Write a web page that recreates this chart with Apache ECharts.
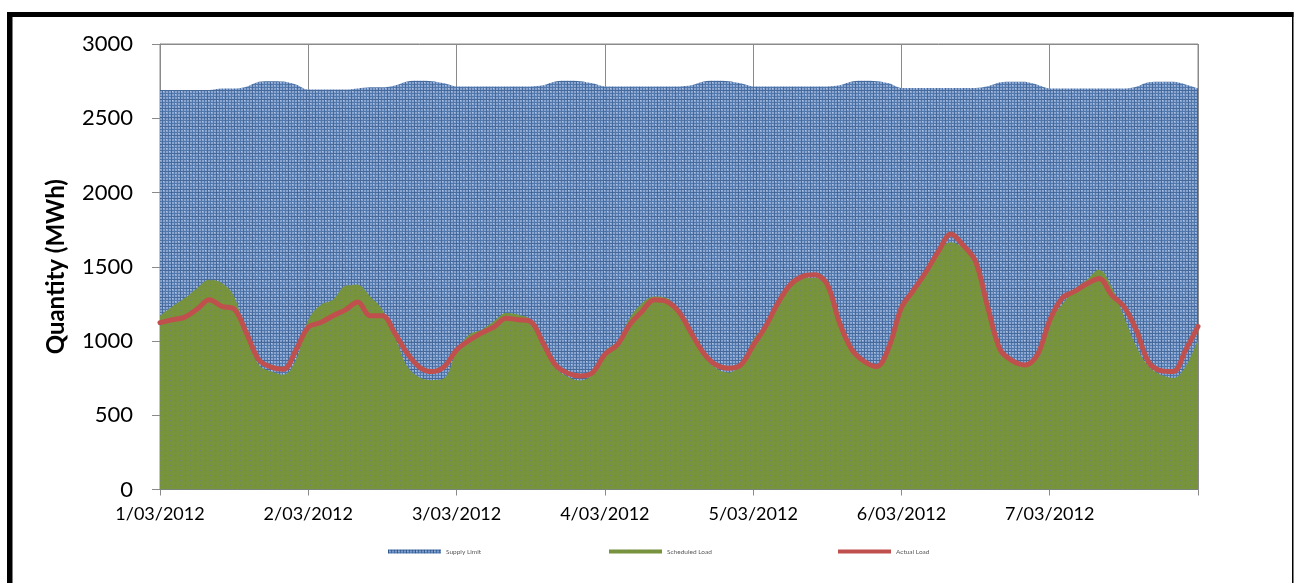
<!DOCTYPE html>
<html>
<head>
<meta charset="utf-8">
<script src="https://cdn.jsdelivr.net/npm/echarts@6/dist/echarts.min.js"></script>
<style>
  html, body { margin: 0; padding: 0; background: #ffffff; }
  #chart { width: 1294px; height: 583px; }
</style>
</head>
<body>
<div id="chart"></div>
<script>
// ---- data (2-hourly points, 12 per day, 1/03/2012 00:00 to 8/03/2012 00:00) ----
const dayLabels = ['1/03/2012', '2/03/2012', '3/03/2012', '4/03/2012', '5/03/2012', '6/03/2012', '7/03/2012'];
const pointsPerDay = 12;

const supplyLimit = [
  2690, 2690, 2690, 2690, 2690, 2700, 2700, 2712, 2745, 2750, 2748, 2728,
  2693, 2693, 2693, 2693, 2700, 2708, 2708, 2720, 2748, 2752, 2750, 2735,
  2714, 2714, 2714, 2714, 2714, 2714, 2714, 2722, 2748, 2752, 2750, 2735,
  2714, 2714, 2714, 2714, 2714, 2714, 2714, 2722, 2748, 2752, 2750, 2735,
  2714, 2714, 2714, 2714, 2714, 2714, 2714, 2722, 2748, 2752, 2750, 2735,
  2704, 2704, 2704, 2704, 2704, 2704, 2704, 2715, 2742, 2746, 2745, 2725,
  2700, 2700, 2700, 2700, 2700, 2700, 2700, 2712, 2742, 2746, 2745, 2728,
  2702
];

const scheduledLoad = [
  1170, 1233, 1289, 1356, 1412, 1390, 1300, 1030, 839, 794, 772, 873,
  1143, 1244, 1278, 1372, 1379, 1300, 1210, 1030, 828, 755, 738, 750,
  930, 1042, 1075, 1131, 1188, 1177, 1143, 963, 817, 760, 734, 772,
  930, 996, 1154, 1255, 1300, 1289, 1199, 1053, 895, 817, 787, 839,
  1008, 1109, 1278, 1390, 1424, 1424, 1379, 1109, 918, 851, 817, 963,
  1233, 1345, 1491, 1610, 1665, 1626, 1525, 1210, 940, 873, 839, 940,
  1143, 1244, 1345, 1412, 1480, 1367, 1165, 963, 828, 772, 750, 828,
  1008
];

const actualLoad = [
  1124, 1143, 1161, 1215, 1278, 1233, 1215, 1053, 873, 824, 810, 940,
  1093, 1124, 1170, 1210, 1262, 1170, 1170, 1053, 918, 824, 794, 828,
  940, 1003, 1053, 1093, 1154, 1143, 1131, 986, 839, 783, 765, 787,
  910, 974, 1109, 1199, 1278, 1266, 1195, 1053, 918, 839, 817, 839,
  970, 1098, 1255, 1379, 1435, 1446, 1379, 1120, 940, 862, 828, 963,
  1225, 1345, 1468, 1605, 1720, 1644, 1536, 1222, 940, 866, 839, 907,
  1140, 1289, 1334, 1385, 1421, 1311, 1233, 1075, 858, 801, 794, 940,
  1098
];

const yTicks = { min: 0, max: 3000, interval: 500 };

// ---- pattern fills (Excel-style hatch) ----
function makePlaid() {
  const c = document.createElement('canvas');
  c.width = 9; c.height = 9;
  const g = c.getContext('2d');
  g.fillStyle = '#7d9ccb'; g.fillRect(0, 0, 9, 9);
  g.fillStyle = '#3f6aa4';
  [3, 6].forEach(p => { g.fillRect(p, 0, 1, 9); g.fillRect(0, p, 9, 1); });
  g.fillStyle = '#30598f';
  g.fillRect(0, 0, 1, 9); g.fillRect(0, 0, 9, 1);
  g.fillStyle = '#a9bedd';
  [1, 4, 7].forEach(p => g.fillRect(p, p, 1, 1));
  return c;
}
function makeDots() {
  const c = document.createElement('canvas');
  c.width = 5; c.height = 5;
  const g = c.getContext('2d');
  g.fillStyle = '#77933c'; g.fillRect(0, 0, 5, 5);
  g.fillStyle = '#6e8470'; g.fillRect(0, 0, 1, 1);
  g.fillStyle = '#7c9447'; g.fillRect(2, 3, 1, 1);
  return c;
}
const bluePattern = { image: makePlaid(), repeat: 'repeat' };
const greenPattern = { image: makeDots(), repeat: 'repeat' };

const toXY = arr => arr.map((v, i) => [i, v]);
const nPts = dayLabels.length * pointsPerDay;
const gridGray = '#8a8a8a';
const fontFam = 'Lato, "Open Sans", sans-serif';

const chart = echarts.init(document.getElementById('chart'), null, { renderer: 'canvas' });

function legendAt(name, left, itemStyle) {
  return {
    data: [{ name: name, icon: 'rect', itemStyle: itemStyle }],
    left: left, top: 548, padding: 0,
    itemWidth: 53, itemHeight: 4, itemGap: 5,
    selectedMode: false,
    textStyle: { fontSize: 6.5, color: '#595959', fontFamily: fontFam }
  };
}

chart.setOption({
  backgroundColor: '#ffffff',
  animation: false,
  grid: {
    left: 160, top: 44, width: 1038, height: 445.5,
    show: true, borderColor: gridGray, borderWidth: 1, backgroundColor: 'transparent'
  },
  legend: [
    legendAt('Supply Limit', 388, { color: bluePattern }),
    legendAt('Scheduled Load', 609, { color: greenPattern }),
    legendAt('Actual Load', 838, { color: '#c0504d' })
  ],
  xAxis: {
    type: 'value', min: 0, max: nPts, interval: pointsPerDay,
    axisLine: { show: true, lineStyle: { color: gridGray, width: 1 } },
    axisTick: { show: true, inside: false, length: 6, lineStyle: { color: gridGray } },
    splitLine: { show: true, lineStyle: { color: gridGray, width: 1 } },
    axisLabel: {
      color: '#000', fontSize: 18, fontFamily: fontFam, margin: 16,
      formatter: v => (v < nPts ? dayLabels[Math.round(v / pointsPerDay)] : '')
    }
  },
  yAxis: {
    type: 'value', min: yTicks.min, max: yTicks.max, interval: yTicks.interval,
    name: 'Quantity (MWh)', nameLocation: 'middle', nameGap: 92, nameRotate: 90,
    nameTextStyle: { color: '#000', fontSize: 24, fontWeight: 'bold', fontFamily: fontFam },
    axisLine: { show: true, lineStyle: { color: gridGray, width: 1 } },
    axisTick: { show: true, inside: false, length: 8, lineStyle: { color: gridGray } },
    splitLine: { show: true, lineStyle: { color: gridGray, width: 1 } },
    axisLabel: { color: '#000', fontSize: 22, fontFamily: fontFam, margin: 27, formatter: v => String(v) }
  },
  series: [
    {
      name: 'Supply Limit', type: 'line', data: toXY(supplyLimit),
      symbol: 'none', smooth: 0.3, z: 2,
      lineStyle: { width: 0 },
      itemStyle: { color: bluePattern },
      areaStyle: { color: bluePattern, opacity: 0.9 }
    },
    {
      name: 'Scheduled Load', type: 'line', data: toXY(scheduledLoad),
      symbol: 'none', smooth: 0.35, z: 3,
      lineStyle: { width: 0 },
      itemStyle: { color: greenPattern },
      areaStyle: { color: greenPattern, opacity: 1 }
    },
    {
      name: 'Actual Load', type: 'line', data: toXY(actualLoad),
      symbol: 'none', smooth: 0.35, z: 4,
      lineStyle: { width: 5, color: '#c0504d', join: 'round', cap: 'round' },
      itemStyle: { color: '#c0504d' }
    }
  ],
  graphic: [
    { type: 'rect', z: 100, shape: { x: 7, y: 12, width: 1286.5, height: 5 }, style: { fill: '#000' } },
    { type: 'rect', z: 100, shape: { x: 7, y: 12, width: 5.5, height: 571 }, style: { fill: '#000' } },
    { type: 'rect', z: 100, shape: { x: 1292, y: 12, width: 1.5, height: 571 }, style: { fill: '#000' } }
  ]
});
</script>
</body>
</html>
